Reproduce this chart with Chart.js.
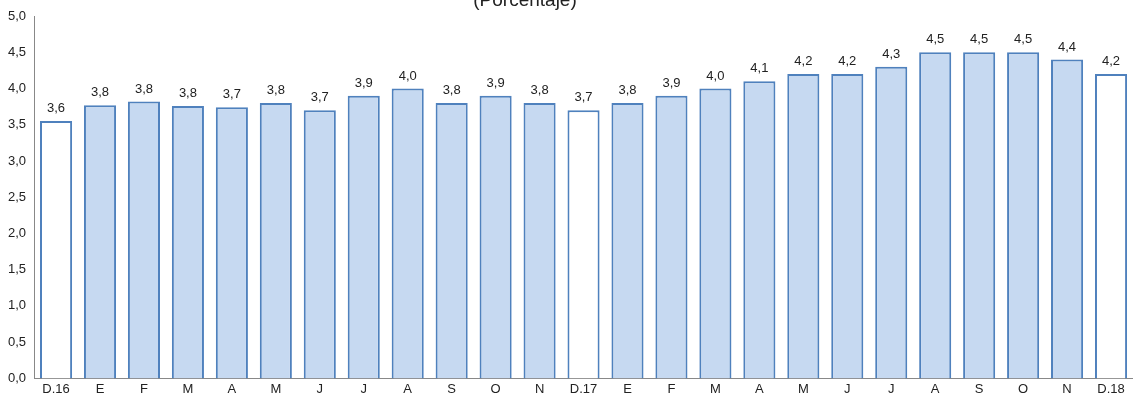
<!DOCTYPE html>
<html>
<head>
<meta charset="utf-8">
<script src="https://cdn.jsdelivr.net/npm/chart.js@4"></script>
<style>
  html, body { margin: 0; padding: 0; background: #fff; }
  #wrap { width: 1133px; height: 403px; }
</style>
</head>
<body>
<div id="wrap"><canvas id="chart"></canvas></div>
<script>
const categories = ["D.16","E","F","M","A","M","J","J","A","S","O","N","D.17","E","F","M","A","M","J","J","A","S","O","N","D.18"];
const values = [3.55,3.77,3.82,3.76,3.74,3.8,3.7,3.9,4.0,3.8,3.9,3.8,3.7,3.8,3.9,4.0,4.1,4.2,4.2,4.3,4.5,4.5,4.5,4.4,4.2];
const valueLabels = ["3,6","3,8","3,8","3,8","3,7","3,8","3,7","3,9","4,0","3,8","3,9","3,8","3,7","3,8","3,9","4,0","4,1","4,2","4,2","4,3","4,5","4,5","4,5","4,4","4,2"];
const decemberIdx = [0, 12, 24];
const titleText = "(Porcentaje)";

const fills = categories.map((c, i) => decemberIdx.includes(i) ? "#ffffff" : "#c6d9f1");

// Etiquetas encima de cada barra
const barLabels = {
  id: "barLabels",
  afterDatasetsDraw(chart) {
    const ctx = chart.ctx;
    const meta = chart.getDatasetMeta(0);
    ctx.save();
    ctx.font = "13px 'Liberation Sans', Arial";
    ctx.fillStyle = "#222";
    ctx.textAlign = "center";
    ctx.textBaseline = "bottom";
    meta.data.forEach((bar, i) => ctx.fillText(valueLabels[i], bar.x, bar.y - 6));
    // título recortado arriba
    ctx.font = "19px 'Liberation Sans', Arial";
    ctx.fillText(titleText, 525, 10);
    ctx.restore();
  }
};

new Chart(document.getElementById("chart"), {
  type: "bar",
  data: {
    labels: categories,
    datasets: [{
      data: values,
      backgroundColor: fills,
      borderColor: "#4f81bd",
      borderWidth: 2,
      borderSkipped: "bottom",
      barPercentage: 0.73,
      categoryPercentage: 1
    }]
  },
  options: {
    responsive: true,
    maintainAspectRatio: false,
    animation: false,
    layout: { padding: { top: 16, right: 0, left: 5, bottom: 3 } },
    plugins: { legend: { display: false }, tooltip: { enabled: false } },
    scales: {
      x: {
        grid: { display: false, drawTicks: false },
        border: { color: "#888" },
        ticks: { color: "#222", font: { size: 13, family: "'Liberation Sans', Arial" }, padding: 3, maxRotation: 0, autoSkip: false }
      },
      y: {
        min: 0, max: 5,
        grid: { display: false, drawTicks: true, tickLength: 5, tickColor: "#888" },
        border: { color: "#888" },
        ticks: {
          stepSize: 0.5,
          color: "#222",
          font: { size: 13, family: "'Liberation Sans', Arial" },
          padding: 3,
          callback: v => v.toFixed(1).replace(".", ",")
        }
      }
    }
  },
  plugins: [barLabels]
});
</script>
</body>
</html>
